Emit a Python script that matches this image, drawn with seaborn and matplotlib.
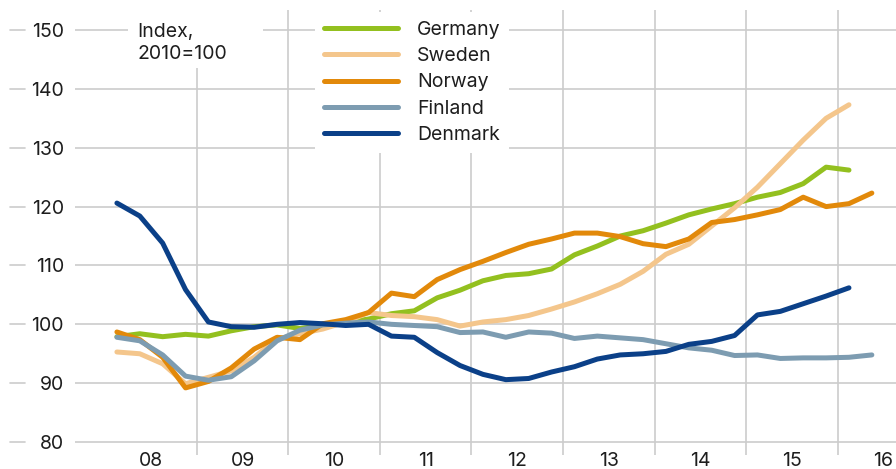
import matplotlib.pyplot as plt
from matplotlib.lines import Line2D
from matplotlib.patches import Rectangle
import numpy as np
import pandas as pd
import seaborn as sns

# Quarterly index values, 2010=100, starting 2008Q1
quarters_start = 2008
germany = [97.9, 98.4, 97.9, 98.3, 98.0, 98.9, 99.6, 99.9, 99.3, 99.8, 100.3, 100.9,
           101.8, 102.3, 104.5, 105.8, 107.4, 108.3, 108.6, 109.4, 111.8, 113.3, 115.0, 115.9,
           117.2, 118.6, 119.6, 120.5, 121.6, 122.4, 123.9, 126.7, 126.2]
sweden = [95.3, 95.0, 93.3, 89.9, 91.0, 92.1, 94.4, 97.5, 98.4, 99.2, 100.4, 102.0,
          101.5, 101.3, 100.8, 99.7, 100.4, 100.8, 101.5, 102.6, 103.8, 105.2, 106.8, 109.0,
          111.9, 113.6, 116.7, 119.8, 123.3, 127.3, 131.3, 135.0, 137.3]
norway = [98.7, 97.4, 94.4, 89.2, 90.3, 92.6, 95.8, 97.8, 97.4, 100.1, 100.8, 102.0,
          105.3, 104.7, 107.6, 109.3, 110.7, 112.2, 113.6, 114.5, 115.5, 115.5, 114.9, 113.7,
          113.2, 114.5, 117.3, 117.8, 118.6, 119.5, 121.6, 120.0, 120.5, 122.3]
finland = [97.8, 97.2, 94.8, 91.2, 90.5, 91.1, 93.8, 97.2, 99.0, 99.9, 100.2, 100.4,
           100.0, 99.8, 99.6, 98.6, 98.7, 97.8, 98.7, 98.5, 97.6, 98.0, 97.7, 97.4,
           96.7, 96.0, 95.6, 94.7, 94.8, 94.2, 94.3, 94.3, 94.4, 94.8]
denmark = [120.6, 118.4, 113.8, 105.9, 100.4, 99.6, 99.5, 100.0, 100.3, 100.1, 99.8, 100.0,
           98.0, 97.8, 95.2, 93.0, 91.5, 90.6, 90.8, 91.9, 92.8, 94.1, 94.8, 95.0,
           95.4, 96.6, 97.1, 98.1, 101.6, 102.2, 103.5, 104.8, 106.2]

countries = ["Germany", "Sweden", "Norway", "Finland", "Denmark"]
series = [germany, sweden, norway, finland, denmark]
colors = {"Germany": "#93c01f", "Sweden": "#f4c68c", "Norway": "#e2890a",
          "Finland": "#7d9cb1", "Denmark": "#0b4088"}
year_labels = ["08", "09", "10", "11", "12", "13", "14", "15", "16"]
y_ticks = [80, 90, 100, 110, 120, 130, 140, 150]

rows = []
for name, vals in zip(countries, series):
    for i, v in enumerate(vals):
        t = quarters_start + i // 4 + ((i % 4) + 0.5) / 4
        rows.append({"t": t, "value": v, "country": name})
df = pd.DataFrame(rows)

sns.set_style("white")
plt.rcParams['font.family'] = ['Inter', 'DejaVu Sans']

W, H = 896, 469
fig = plt.figure(figsize=(W / 100, H / 100), dpi=100)
ax = fig.add_axes([75 / W, 1 - 455 / H, 1 - 75 / W, 445 / H])

grid_c = "#cccccc"
text_c = "#1e1e1e"
sns.lineplot(data=df, x="t", y="value", hue="country", hue_order=countries,
             palette=colors, linewidth=3.6, legend=False, ax=ax,
             solid_capstyle="round", solid_joinstyle="round", zorder=3)

ax.set_xlim(2007.667, 2016.639)
ax.set_ylim(77.8, 153.4)
for s in ax.spines.values():
    s.set_visible(False)

# vertical gridlines at year boundaries, labels at year centres
ax.set_xticks(np.arange(2009, 2017))
ax.set_xticklabels([])
ax.set_xticks(np.arange(2008, 2017) + 0.5, minor=True)
ax.set_xticklabels(year_labels, minor=True)
ax.tick_params(axis="x", which="both", length=0)
ax.tick_params(axis="x", which="minor", labelsize=14, pad=-2, labelcolor=text_c)
ax.grid(axis="x", which="major", color=grid_c, linewidth=1.2)

ax.set_yticks(y_ticks)
ax.tick_params(axis="y", length=0, pad=8, labelsize=14, labelcolor=text_c)
ax.grid(axis="y", color=grid_c, linewidth=1.2)
ax.set_xlabel("")
ax.set_ylabel("")
ax.set_axisbelow(True)

# short dashes at the far left of each y tick
trans = ax.get_yaxis_transform()
for yv in y_ticks:
    ax.add_line(Line2D([-65 / 821, -50 / 821], [yv, yv], transform=trans,
                       color=grid_c, linewidth=1.2, clip_on=False))

# unit label with white box
fig.patches.append(Rectangle((128 / W, 1 - 68 / H), 135 / W, 60 / H,
                             transform=fig.transFigure, facecolor="white",
                             edgecolor="none", zorder=1))
fig.text(137 / W, 1 - 23 / H, "Index,\n2010=100", ha="left", va="top",
         fontsize=14, color=text_c, linespacing=1.3, zorder=2)

handles = [Line2D([0], [0], color=colors[c], linewidth=3.6, solid_capstyle="round")
           for c in countries]
leg = ax.legend(handles, countries, loc="upper left",
                bbox_to_anchor=(315 / W, 1 - 12 / H), bbox_transform=fig.transFigure,
                frameon=True, fancybox=False, fontsize=14, handlelength=3.8,
                handletextpad=1.0, labelspacing=0.43, borderpad=0.45,
                borderaxespad=0)
leg.get_frame().set_facecolor("white")
leg.get_frame().set_edgecolor("none")
leg.get_frame().set_alpha(1)
for txt in leg.get_texts():
    txt.set_color(text_c)

fig.savefig("out.png", dpi=100)
